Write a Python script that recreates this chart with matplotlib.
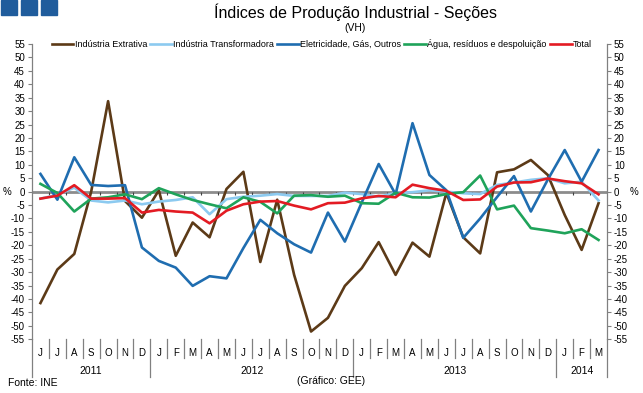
import matplotlib
matplotlib.use("Agg")
import matplotlib.pyplot as plt
from matplotlib.patches import Rectangle
import numpy as np

plt.rcParams['font.family'] = ['Liberation Sans', 'DejaVu Sans']
plt.rcParams['axes.unicode_minus'] = False

# month letters from Jun 2011 to Mar 2014
months = ['J', 'J', 'A', 'S', 'O', 'N', 'D'] + \
         ['J', 'F', 'M', 'A', 'M', 'J', 'J', 'A', 'S', 'O', 'N', 'D'] * 2 + \
         ['J', 'F', 'M']
years = ['2011', '2012', '2013', '2014']
months_per_year = [7, 12, 12, 3]

# year-on-year change (%)
extrativa = [-41.5, -29, -23.2, 0, 33.7, -3.5, -9.7,
             0.5, -23.9, -11.5, -17, 1, 7.4, -26.2, -3, -31, -52.1, -47, -35.1,
             -28.5, -18.8, -31, -19, -24.2, -0.5, -17, -23, 7.2, 8.3, 11.8, 6.2,
             -8.7, -21.7, -4.3]
transformadora = [-2.6, -1.2, 1.5, -3.3, -4, -3.3, -4.7,
                  -3.7, -3.1, -2.1, -8.4, -2.8, -1.9, -1.5, -0.9, -1.6, -1.6, -1.6, -0.4,
                  -0.9, -1.9, -0.5, -0.2, 0.5, 0, -0.6, -0.9, 2.5, 3.4, 4.4, 5,
                  3.1, 3.7, -3.3]
eletricidade = [6.6, -3, 12.8, 2.5, 2.1, 2.4, -20.8,
                -25.8, -28.3, -35.1, -31.5, -32.3, -21, -10.5, -15.5, -19.6, -22.7, -7.8, -18.6,
                -4, 10.3, -1, 25.5, 6.2, 0.5, -17.2, -10, -2, 5.8, -7.4, 4.5,
                15.5, 3.7, 15.5]
agua = [2.9, -0.5, -7.4, -2.6, -2.1, -1, -2.8,
        1.3, -1, -3.1, -4.7, -6.2, -2.1, -3.8, -8.1, -1.5, -1.3, -1.9, -1.5,
        -4.3, -4.5, -0.4, -2.1, -2.2, -0.9, -0.2, 6, -6.6, -5.2, -13.6, -14.5,
        -15.5, -14, -18]
total = [-2.6, -1.5, 2.4, -2.6, -2.6, -2.4, -7.8,
         -6.8, -7.4, -7.8, -11.8, -7.1, -4.7, -3.7, -3.5, -5.2, -6.6, -4.3, -4.1,
         -2.5, -1.6, -2.1, 2.6, 1.3, 0.3, -3.1, -2.9, 1.9, 3.4, 3.5, 4.9,
         3.9, 3.1, -1.0]

names = ['Indústria Extrativa', 'Indústria Transformadora', 'Eletricidade, Gás, Outros',
         'Água, resíduos e despoluição', 'Total']
colors = ['#5c3a17', '#8ccaf0', '#1f6db0', '#1fa35a', '#e31b23']
series = [extrativa, transformadora, eletricidade, agua, total]

fig = plt.figure(figsize=(6.43, 3.93), dpi=100)
ax = fig.add_axes([32 / 643, 1 - 339.3 / 393, 575 / 643, 295.3 / 393])

x = np.arange(len(months))
ax.axhline(0, color='#8c8c8c', lw=2, zorder=1)
# little ticks on the zero line between months
ax.vlines(x[:-1] + 0.5, -1.3, 0, color='#404040', lw=0.8, zorder=1)

for vals, c, n in zip(series, colors, names):
    ax.plot(x, vals, color=c, lw=1.9, label=n, zorder=3)

ax.set_xlim(-0.5, len(months) - 0.5)
ax.set_ylim(-55, 55)
ax.set_xticks([])
ax.set_yticks(range(-55, 56, 5))
ax.tick_params(axis='y', labelsize=7, length=3, width=0.8, color='#808080',
               right=True, labelright=True, pad=2)
for s in ['top', 'bottom']:
    ax.spines[s].set_visible(False)
for s in ['left', 'right']:
    ax.spines[s].set_color('#808080')
    ax.spines[s].set_linewidth(0.9)

# category axis drawn below the plot: months, then years
tr = ax.get_xaxis_transform()
for i, m in enumerate(months):
    ax.text(i, -0.045, m, transform=tr, ha='center', va='center', fontsize=7)
year_edges = np.cumsum([0] + months_per_year) - 0.5
for b in x[:-1] + 0.5:
    if b not in year_edges:
        ax.plot([b, b], [0, -0.063], transform=tr, clip_on=False, color='#808080', lw=0.9)
for b in year_edges:
    ax.plot([b, b], [0, -0.128], transform=tr, clip_on=False, color='#808080', lw=0.9)
for k, y in enumerate(years):
    mid = (year_edges[k] + year_edges[k + 1]) / 2
    ax.text(mid, -0.106, y, transform=tr, ha='center', va='center', fontsize=7.5)

ax.legend(loc='center', bbox_to_anchor=(0.504, 1.0), ncol=5, frameon=False,
          fontsize=6.5, handlelength=2.4, handletextpad=0.15, columnspacing=0.35,
          borderaxespad=0)

fig.text(355 / 643, 1 - 12 / 393, 'Índices de Produção Industrial - Seções',
         ha='center', va='center', fontsize=11.5)
fig.text(355 / 643, 1 - 28 / 393, '(VH)', ha='center', va='center', fontsize=7.5)
fig.text(7 / 643, 1 - 192 / 393, '%', ha='center', va='center', fontsize=7)
fig.text(634 / 643, 1 - 192 / 393, '%', ha='center', va='center', fontsize=7)
fig.text(8 / 643, 1 - 383 / 393, 'Fonte: INE', va='center', fontsize=7.5)
fig.text(331 / 643, 1 - 381 / 393, '(Gráfico: GEE)', ha='center', va='center', fontsize=7.5)

# the three blue squares in the corner
for k in range(3):
    fig.patches.append(Rectangle(((1 + 20 * k) / 643, 1 - 15 / 393), 16 / 643, 15 / 393,
                                 transform=fig.transFigure, color='#1f5c9c'))

fig.savefig('out.png', dpi=100)
